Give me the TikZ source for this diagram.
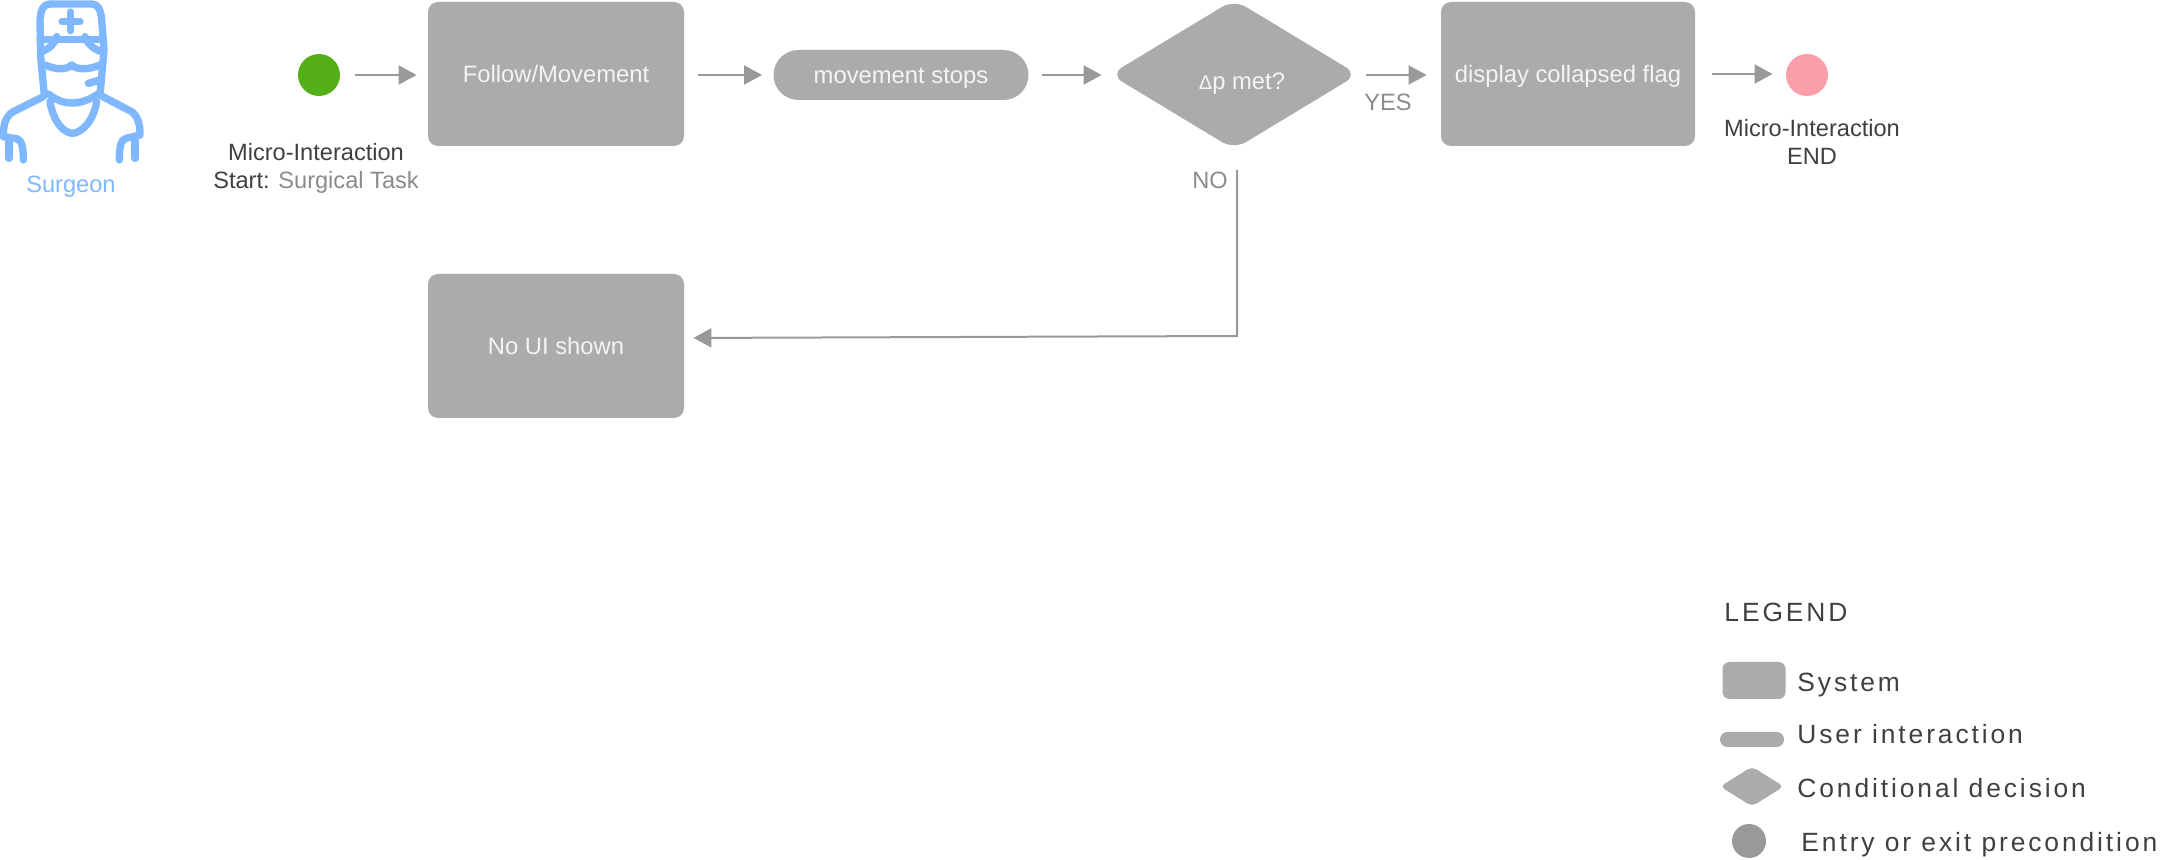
\documentclass[tikz,border=0pt]{standalone}
\usepackage{fontspec}
\setmainfont{Liberation Sans}
\newfontfamily\legendfont[LetterSpace=11]{Liberation Sans}
\usetikzlibrary{arrows.meta,shapes.geometric}
\definecolor{boxgray}{HTML}{ABABAC}
\definecolor{flowgray}{HTML}{999999}
\definecolor{labgray}{HTML}{8A8A8F}
\definecolor{darktext}{HTML}{404040}
\definecolor{surgeon}{HTML}{7FB8FF}
\definecolor{boxtext}{HTML}{F4F4F4}
\definecolor{startgreen}{HTML}{55AF16}
\definecolor{endpink}{HTML}{FB9EA9}
\tikzset{
  x=0.5pt,y=-0.5pt,
  txt/.style={font=\fontsize{11.8pt}{14pt}\selectfont,inner sep=0pt},
  sysbox/.style={fill=boxgray,rounded corners=5pt,minimum width=128pt,minimum height=72pt,inner sep=0pt,text=boxtext,text height=8.5pt,text depth=0.2pt,font=\fontsize{11.9pt}{14pt}\selectfont},
  userpill/.style={fill=boxgray,rounded corners=12.5pt,minimum width=127.5pt,minimum height=25pt,inner sep=0pt,text=boxtext,text height=8.5pt,text depth=0.2pt,font=\fontsize{11.9pt}{14pt}\selectfont},
  decision/.style={diamond,fill=boxgray,rounded corners=7pt,minimum width=124pt,minimum height=75pt,inner sep=0pt,text=boxtext,font=\fontsize{11.9pt}{14pt}\selectfont},
  dot/.style={circle,minimum size=21pt,inner sep=0pt},
  flow/.style={draw=flowgray,line width=1pt,-{Triangle[length=9pt,width=9.5pt,fill=flowgray]}},
  lab/.style={txt,text=labgray},
  dark/.style={txt,text=darktext},
  legtitle/.style={inner sep=0pt,anchor=base west,text=darktext,font=\fontsize{13.2pt}{15pt}\legendfont},
  icon/.style={draw=surgeon,line width=3.7pt,line cap=round,line join=round},
}
\begin{document}
\begin{tikzpicture}
\useasboundingbox (0,0) rectangle (2164,860);
% surgeon icon (drawn in 3x zoom coordinates)
\begin{scope}[x=0.16667pt,y=-0.16667pt,icon]
  \draw (133,285) -- (122,170) -- (120,60) .. controls (122,30) and (130,12) .. (150,12) -- (275,12) .. controls (295,12) and (302,30) .. (305,60) -- (312,150) -- (300,285);
  \draw (120,118) -- (305,118);
  \draw (212,36) -- (212,92) (186,65) -- (240,65);
  \draw (125,155) .. controls (150,145) and (165,130) .. (170,110);
  \draw (255,110) .. controls (262,130) and (280,148) .. (305,155);
  \draw (135,195) .. controls (170,210) and (200,210) .. (215,195) .. controls (230,210) and (265,210) .. (300,195);
  \draw (145,282) .. controls (190,318) and (240,318) .. (295,282);
  \draw (265,250) -- (300,240);
  \draw (150,305) .. controls (160,365) and (190,398) .. (217,400) .. controls (245,398) and (280,365) .. (290,305);
  \draw (130,290) -- (40,335) .. controls (15,350) and (10,375) .. (10,410) -- (50,416) .. controls (65,420) and (70,440) .. (70,480);
  \draw (27,420) -- (27,475);
  \draw (305,288) -- (395,335) .. controls (415,350) and (420,375) .. (420,405) -- (378,415) .. controls (362,420) and (358,440) .. (358,480);
  \draw (405,420) -- (405,475);
\end{scope}
\node[txt,text=surgeon] (surgeonlabel) at (71,187) {Surgeon};
% main flow
\node[dot,fill=startgreen] (start) at (319,75) {};
\node[sysbox] (follow) at (556,74) {Follow/Movement};
\node[userpill] (stops) at (901,75) {movement stops};
\node[decision] (dec) at (1234,74.5) {\smash{\hspace*{8pt}\raisebox{-7.6pt}{{\fontsize{10pt}{12pt}\selectfont Δ}p met?}}};
\node[sysbox,minimum width=127pt] (flag) at (1568,74) {display collapsed flag};
\node[dot,fill=endpink] (stop) at (1807,75) {};
\node[sysbox] (noui) at (556,346) {No UI shown};
% labels
\node[dark,align=center] (startlab) at (316,168) {Micro-Interaction\\Start: \textcolor{labgray}{Surgical Task}};
\node[dark,align=center] (endlab) at (1812,142) {Micro-Interaction\\END};
\node[lab] (yes) at (1388,102) {YES};
\node[lab] (no) at (1210,180) {NO};
% connectors
\coordinate (nostart) at (1237,170);
\coordinate (nocorner) at (1237,336);
\draw[flow,shorten <=7.5pt,shorten >=5.5pt] (start) -- (start-|follow.west);
\draw[flow,shorten <=7pt,shorten >=5.5pt] (follow.east|-start) -- (stops.west);
\draw[flow,shorten <=6.5pt,shorten >=4pt] (stops.east) -- (stops-|dec.west);
\draw[flow,shorten <=4pt,shorten >=7pt] (stops-|dec.east) -- (stops-|flag.west);
\draw[flow,shorten <=8.5pt,shorten >=6.5pt] (flag.east) -- (flag-|stop.west);
\draw[flow,shorten >=4.5pt] (nostart) -- (nocorner) -- ([yshift=4pt]noui.east);
% legend
\node[legtitle] (legend) at (1724,622) {LEGEND};
\node[fill=boxgray,rounded corners=3.5pt,minimum width=31.5pt,minimum height=18.5pt,inner sep=0pt] (legsys) at (1754,680.5) {};
\node[legtitle] (legsystem) at (1797,692) {System};
\node[fill=boxgray,rounded corners=3.7pt,minimum width=32pt,minimum height=7.5pt,inner sep=0pt] (leguser) at (1752,739.5) {};
\node[legtitle] (legusertext) at (1797,744) {User interaction};
\node[diamond,fill=boxgray,rounded corners=2.5pt,minimum width=32pt,minimum height=20pt,inner sep=0pt] (legdec) at (1752,786.5) {};
\node[legtitle] (legdectext) at (1797,798) {Conditional decision};
\node[circle,fill=flowgray,minimum size=17pt,inner sep=0pt] (legdot) at (1749,841) {};
\node[legtitle] (legdottext) at (1801,851) {Entry or exit precondition};
\end{tikzpicture}
\end{document}
